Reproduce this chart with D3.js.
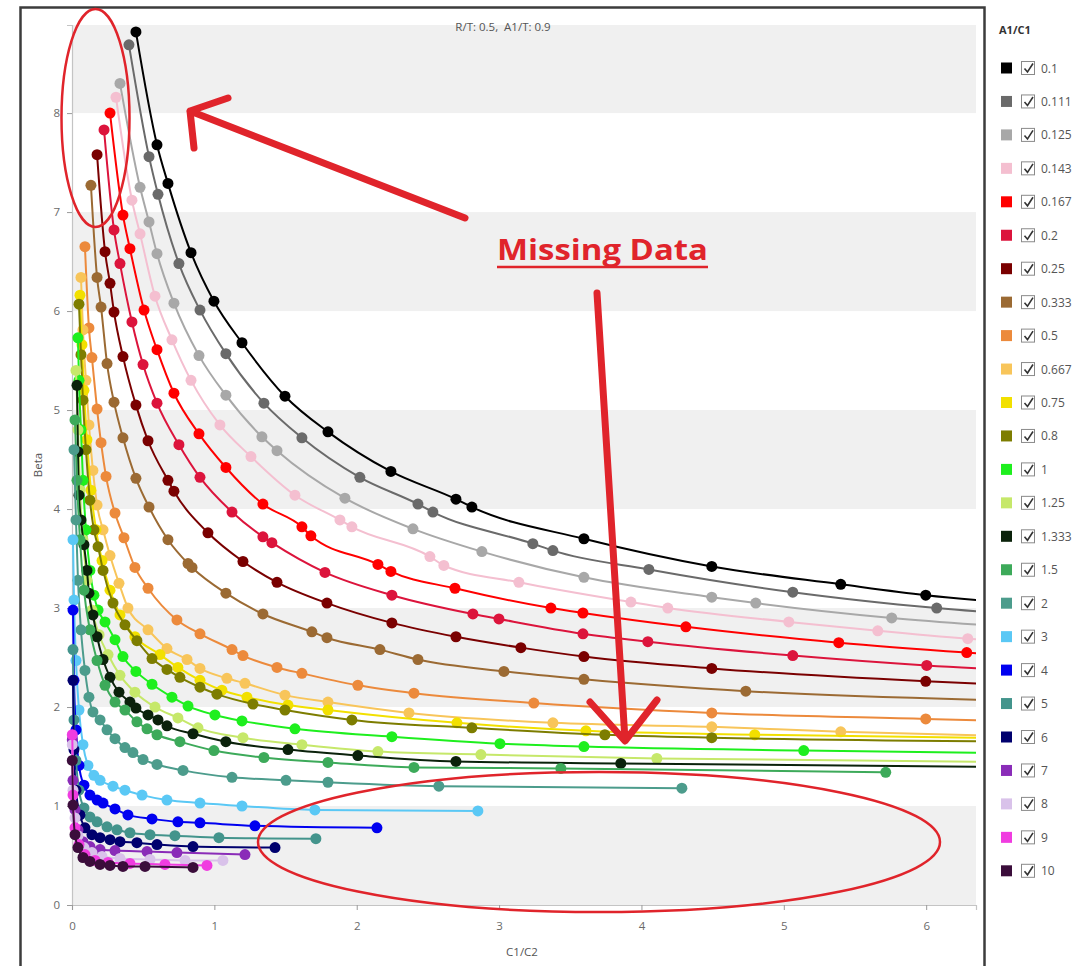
<!DOCTYPE html>
<html><head><meta charset="utf-8">
<script src="https://cdn.jsdelivr.net/npm/d3@7"></script>
<style>
body{margin:0;background:#fff;}
svg{display:block;font-family:"Open Sans","Noto Sans",sans-serif;}
text{white-space:pre;}
</style>
</head><body>
<svg id="c" width="1088" height="966"></svg>
<script>
// ---------- DATA (C1/C2, Beta) ----------
const seriesNames = ["0.1","0.111","0.125","0.143","0.167","0.2","0.25","0.333","0.5","0.667","0.75","0.8","1","1.25","1.333","1.5","2","3","4","5","6","7","8","9","10"];
const seriesColors = ["#000000","#6a6a6a","#a8a8a8","#f4bfd0","#ff0000","#dc143c","#7a0000","#9b6a33","#ec8a3c","#f8c55a","#f2e000","#7d7d00","#1eef1e","#c6e86a","#0b220b","#3daa5a","#4c9c8c","#5ac8f5","#0000f0","#43948c","#00006e","#8a2cb8","#d9c2ea","#f03ce0","#3b0d3b"];

const s_0_1   = [[0.449,8.82],[0.597,7.68],[0.674,7.29],[0.836,6.59],[0.997,6.10],[1.194,5.68],[1.496,5.14],[1.798,4.78],[2.240,4.38],[2.697,4.10],[2.809,4.02],[3.596,3.70],[4.494,3.42],[5.400,3.24],[5.997,3.13],[6.8,3.03]];
const s_0_111 = [[0.400,8.69],[0.541,7.56],[0.604,7.18],[0.751,6.48],[0.899,6.01],[1.081,5.57],[1.348,5.07],[1.615,4.72],[2.022,4.32],[2.430,4.05],[2.535,3.97],[3.237,3.65],[3.378,3.58],[4.052,3.39],[5.063,3.16],[6.074,3.00],[6.8,2.92]];
const s_0_125 = [[0.337,8.30],[0.478,7.25],[0.541,6.90],[0.597,6.58],[0.716,6.08],[0.892,5.55],[1.081,5.15],[1.334,4.73],[1.440,4.59],[1.917,4.11],[2.395,3.80],[2.879,3.57],[3.596,3.31],[4.494,3.11],[4.803,3.05],[5.758,2.90],[6.8,2.79]];
const s_0_143 = [[0.309,8.16],[0.421,7.12],[0.478,6.78],[0.583,6.15],[0.702,5.71],[0.836,5.30],[1.039,4.85],[1.257,4.53],[1.566,4.14],[1.882,3.89],[1.966,3.82],[2.514,3.52],[2.612,3.43],[3.139,3.26],[3.926,3.06],[4.185,3.00],[5.035,2.86],[5.660,2.77],[6.292,2.69],[6.8,2.64]];
const s_0_167 = [[0.267,8.00],[0.358,6.97],[0.407,6.63],[0.506,6.01],[0.597,5.61],[0.716,5.17],[0.892,4.76],[1.081,4.42],[1.341,4.05],[1.615,3.82],[1.678,3.73],[2.149,3.44],[2.240,3.37],[2.690,3.20],[3.364,3.00],[3.589,2.95],[4.312,2.81],[5.386,2.65],[6.285,2.55],[6.8,2.50]];
const s_0_2   = [[0.225,7.83],[0.295,6.82],[0.337,6.48],[0.421,5.89],[0.499,5.46],[0.597,5.07],[0.751,4.65],[0.899,4.32],[1.124,3.97],[1.341,3.72],[1.404,3.66],[1.777,3.36],[2.247,3.13],[2.816,2.94],[2.999,2.89],[3.589,2.74],[4.045,2.66],[5.063,2.52],[6.004,2.42],[6.8,2.36]];
const s_0_25  = [[0.176,7.58],[0.232,6.60],[0.267,6.28],[0.295,5.99],[0.358,5.54],[0.449,5.05],[0.534,4.69],[0.674,4.29],[0.716,4.18],[0.955,3.76],[1.201,3.47],[1.440,3.26],[1.791,3.05],[2.247,2.85],[2.697,2.71],[3.153,2.60],[3.596,2.51],[4.494,2.39],[5.997,2.26],[6.8,2.21]];
const s_0_333 = [[0.133,7.27],[0.176,6.34],[0.204,6.04],[0.246,5.47],[0.295,5.08],[0.358,4.72],[0.449,4.31],[0.541,4.02],[0.674,3.69],[0.815,3.45],[0.843,3.41],[1.081,3.15],[1.341,2.94],[1.685,2.76],[1.791,2.70],[2.163,2.58],[2.430,2.48],[3.034,2.36],[3.596,2.28],[4.733,2.16],[6.8,2.06]];
const s_0_5   = [[0.091,6.65],[0.119,5.83],[0.140,5.53],[0.176,5.01],[0.204,4.67],[0.239,4.33],[0.302,3.96],[0.365,3.71],[0.442,3.41],[0.534,3.20],[0.737,2.88],[0.899,2.74],[1.124,2.58],[1.201,2.52],[1.440,2.40],[1.615,2.34],[2.008,2.22],[2.402,2.14],[3.244,2.04],[4.494,1.94],[5.997,1.88],[6.8,1.85]];
const s_0_667 = [[0.063,6.34],[0.077,5.81],[0.098,5.30],[0.119,4.85],[0.147,4.39],[0.176,4.04],[0.218,3.79],[0.267,3.53],[0.330,3.25],[0.393,3.00],[0.534,2.78],[0.667,2.59],[0.808,2.48],[0.899,2.39],[1.088,2.29],[1.215,2.24],[1.496,2.12],[1.798,2.05],[2.367,1.94],[3.378,1.84],[4.494,1.80],[5.400,1.75],[6.8,1.70]];
const s_0_75  = [[0.056,6.16],[0.070,5.66],[0.084,5.20],[0.105,4.70],[0.133,4.19],[0.169,3.79],[0.211,3.48],[0.267,3.18],[0.337,2.93],[0.442,2.71],[0.618,2.53],[0.744,2.40],[0.899,2.27],[1.053,2.17],[1.229,2.10],[1.517,2.02],[1.798,1.97],[2.704,1.84],[3.610,1.76],[4.796,1.72],[6.8,1.68]];
const s_0_8   = [[0.049,6.07],[0.063,5.56],[0.077,5.10],[0.098,4.60],[0.126,4.09],[0.154,3.79],[0.183,3.62],[0.218,3.38],[0.288,3.05],[0.372,2.83],[0.456,2.67],[0.562,2.49],[0.667,2.38],[0.758,2.30],[0.899,2.20],[1.018,2.13],[1.271,2.03],[1.496,1.97],[1.966,1.87],[2.809,1.79],[3.743,1.72],[4.494,1.69],[6.8,1.65]];
const s_1     = [[0.042,5.73],[0.049,5.30],[0.063,4.80],[0.077,4.29],[0.098,3.79],[0.126,3.38],[0.154,3.13],[0.183,2.98],[0.232,2.86],[0.302,2.68],[0.358,2.51],[0.449,2.36],[0.562,2.23],[0.702,2.10],[0.815,2.01],[1.004,1.92],[1.194,1.86],[1.566,1.78],[2.247,1.70],[3.006,1.63],[3.596,1.60],[5.140,1.56],[6.8,1.53]];
const s_1_25  = [[0.028,5.40],[0.042,4.80],[0.056,4.19],[0.077,3.69],[0.105,3.28],[0.140,2.98],[0.190,2.73],[0.253,2.53],[0.337,2.32],[0.442,2.15],[0.583,2.00],[0.744,1.89],[0.885,1.79],[1.201,1.69],[1.615,1.62],[2.149,1.55],[2.872,1.52],[4.108,1.48],[6.8,1.44]];
const s_1_333 = [[0.035,5.25],[0.042,4.58],[0.049,4.14],[0.063,3.89],[0.084,3.64],[0.105,3.38],[0.119,3.15],[0.147,2.93],[0.176,2.71],[0.218,2.48],[0.267,2.30],[0.330,2.15],[0.407,2.05],[0.449,1.99],[0.534,1.92],[0.604,1.87],[0.667,1.81],[0.850,1.73],[1.081,1.65],[1.517,1.57],[2.008,1.51],[2.697,1.45],[3.855,1.43],[6.8,1.39]];
const s_1_5   = [[0.021,4.90],[0.035,4.29],[0.056,3.69],[0.084,3.18],[0.126,2.78],[0.176,2.47],[0.232,2.22],[0.302,2.05],[0.372,1.97],[0.456,1.85],[0.527,1.78],[0.597,1.72],[0.758,1.65],[0.997,1.56],[1.348,1.49],[1.798,1.44],[2.402,1.39],[3.434,1.38],[5.716,1.34]];
const s_2     = [[0.014,4.60],[0.028,3.89],[0.042,3.28],[0.063,2.78],[0.091,2.37],[0.119,2.10],[0.147,1.95],[0.197,1.87],[0.246,1.77],[0.302,1.68],[0.372,1.59],[0.428,1.54],[0.499,1.47],[0.597,1.42],[0.780,1.36],[1.124,1.29],[1.503,1.26],[1.798,1.24],[2.577,1.20],[4.284,1.18]];
const s_3     = [[0.007,3.69],[0.014,3.08],[0.028,2.47],[0.049,1.97],[0.077,1.62],[0.112,1.41],[0.154,1.31],[0.197,1.26],[0.288,1.20],[0.372,1.16],[0.492,1.11],[0.667,1.06],[0.899,1.03],[1.194,1.00],[1.706,0.96],[2.851,0.95]];
const s_4     = [[0.007,2.98],[0.014,2.27],[0.028,1.77],[0.049,1.41],[0.084,1.21],[0.126,1.11],[0.176,1.06],[0.218,1.03],[0.302,0.97],[0.393,0.91],[0.562,0.87],[0.744,0.84],[0.899,0.83],[1.285,0.80],[2.142,0.78]];
const s_5     = [[0.007,2.58],[0.014,1.87],[0.028,1.46],[0.049,1.16],[0.084,0.98],[0.126,0.89],[0.176,0.84],[0.246,0.79],[0.316,0.76],[0.407,0.73],[0.548,0.71],[0.723,0.70],[1.032,0.68],[1.713,0.67]];
const s_6     = [[0.007,2.27],[0.014,1.57],[0.028,1.16],[0.056,0.91],[0.091,0.78],[0.140,0.71],[0.197,0.68],[0.267,0.66],[0.337,0.64],[0.456,0.63],[0.597,0.61],[0.850,0.59],[1.426,0.58]];
const s_7     = [[0.002,1.67],[0.007,1.26],[0.021,0.96],[0.042,0.76],[0.077,0.64],[0.126,0.59],[0.197,0.56],[0.302,0.55],[0.527,0.54],[0.737,0.53],[1.215,0.51]];
const s_8     = [[0.002,1.62],[0.007,1.16],[0.021,0.88],[0.042,0.70],[0.084,0.58],[0.140,0.53],[0.211,0.49],[0.337,0.47],[0.548,0.46],[0.794,0.45],[1.060,0.45]];
const s_9     = [[0.002,1.72],[0.007,1.11],[0.021,0.78],[0.049,0.61],[0.091,0.51],[0.162,0.45],[0.253,0.43],[0.407,0.42],[0.653,0.41],[0.948,0.40]];
const s_10    = [[0.002,1.46],[0.007,1.01],[0.021,0.71],[0.042,0.58],[0.077,0.48],[0.126,0.44],[0.197,0.41],[0.267,0.40],[0.358,0.39],[0.513,0.39],[0.850,0.38]];

const xTicks = [0,1,2,3,4,5,6];
const yTicks = [0,1,2,3,4,5,6,7,8];
const chartTitle = "R/T: 0.5,  A1/T: 0.9";
const xLabel = "C1/C2", yLabel = "Beta", legendTitle = "A1/C1";
const annotationText = "Missing Data";

const allSeries = [s_0_1,s_0_111,s_0_125,s_0_143,s_0_167,s_0_2,s_0_25,s_0_333,s_0_5,s_0_667,s_0_75,s_0_8,s_1,s_1_25,s_1_333,s_1_5,s_2,s_3,s_4,s_5,s_6,s_7,s_8,s_9,s_10]
  .map((v,i)=>({name:seriesNames[i], color:seriesColors[i], values:v}));

// ---------- LAYOUT ----------
const svg = d3.select("#c");
const L=72, R=976, T=25, B=905;
const x = d3.scaleLinear().domain([0,6.35]).range([L,R]);
const y = d3.scaleLinear().domain([0,8.89]).range([B,T]);

// frame
svg.append("rect").attr("x",20.5).attr("y",7.5).attr("width",964).attr("height",975)
  .attr("fill","none").attr("stroke","#3c3c3c").attr("stroke-width",2.5);

// bands
const bands = yTicks.filter(t=>t%2===0).map(t=>[t, Math.min(t+1, y.domain()[1])]);
svg.append("g").selectAll("rect").data(bands).join("rect")
  .attr("x",L).attr("width",R-L)
  .attr("y",d=>y(d[1])).attr("height",d=>y(d[0])-y(d[1]))
  .attr("fill","#f0f0f0");

// axes
const ya = svg.append("g").attr("transform",`translate(${L},0)`)
  .call(d3.axisLeft(y).tickValues(yTicks).tickSize(5).tickPadding(7).tickFormat(d3.format("d")));
const xa = svg.append("g").attr("transform",`translate(0,${B})`)
  .call(d3.axisBottom(x).tickValues(xTicks).tickSize(5).tickPadding(12).tickFormat(d3.format("d")));
[ya,xa].forEach(g=>{
  g.select(".domain").attr("stroke","#c4c4c4").attr("stroke-width",1.2);
  g.selectAll(".tick line").attr("stroke","#9a9a9a");
  g.selectAll(".tick text").attr("fill","#6a6a6a").attr("font-size",11.5).attr("font-family","Open Sans, sans-serif");
});

svg.append("text").attr("x",503).attr("y",31).attr("text-anchor","middle")
  .attr("font-size",11.5).attr("fill","#555").text(chartTitle);
svg.append("text").attr("transform","translate(42,465) rotate(-90)").attr("text-anchor","middle")
  .attr("font-size",11.5).attr("fill","#555").text(yLabel);
svg.append("text").attr("x",522).attr("y",956).attr("text-anchor","middle")
  .attr("font-size",11.5).attr("fill","#555").text(xLabel);

// series
svg.append("defs").append("clipPath").attr("id","clip")
  .append("rect").attr("x",L-12).attr("y",T-10).attr("width",R-L+12).attr("height",B-T+10);
const plot = svg.append("g").attr("clip-path","url(#clip)");
const line = d3.line().x(d=>x(d[0])).y(d=>y(d[1])).curve(d3.curveMonotoneX);
const sg = plot.selectAll("g.s").data(allSeries).join("g").attr("class","s");
sg.append("path").attr("d",d=>line(d.values)).attr("fill","none")
  .attr("stroke",d=>d.color).attr("stroke-width",2);
sg.selectAll("circle").data(d=>d.values.map(v=>({v,c:d.color}))).join("circle")
  .attr("cx",d=>x(d.v[0])).attr("cy",d=>y(d.v[1])).attr("r",5.5).attr("fill",d=>d.c);

// annotations
const red="#e0242b";
const ann = svg.append("g").attr("fill","none").attr("stroke",red).attr("stroke-linecap","round").attr("stroke-linejoin","round");
ann.append("ellipse").attr("cx",95.5).attr("cy",118).attr("rx",34).attr("ry",109).attr("stroke-width",2.5);
ann.append("ellipse").attr("cx",599).attr("cy",842).attr("rx",341).attr("ry",70).attr("stroke-width",2.5);
ann.append("path").attr("d","M465,218 L190,111 M228,98 L190,111 L194,148").attr("stroke-width",7);
ann.append("path").attr("d","M597,293 L625,740 M590,702 L625,741 L657,700").attr("stroke-width",7);
svg.append("text").attr("x",497).attr("y",260).attr("font-size",29).attr("font-weight",700)
  .attr("font-family","Open Sans, sans-serif").attr("fill",red)
  .attr("textLength",211).attr("lengthAdjust","spacingAndGlyphs").text(annotationText);
svg.append("line").attr("x1",497).attr("x2",708).attr("y1",267).attr("y2",267).attr("stroke",red).attr("stroke-width",2.5);

// legend
svg.append("text").attr("x",999).attr("y",34).attr("font-size",11).attr("font-weight",700)
  .attr("fill","#333").text(legendTitle);
const lg = svg.append("g").selectAll("g").data(allSeries).join("g")
  .attr("transform",(d,i)=>`translate(0,${68+i*33.45})`);
lg.append("rect").attr("x",1001).attr("y",-5.5).attr("width",11).attr("height",11).attr("fill",d=>d.color);
lg.append("rect").attr("x",1021.5).attr("y",-6.5).attr("width",13).attr("height",13)
  .attr("fill","#fff").attr("stroke","#8a8a8a").attr("stroke-width",1);
lg.append("path").attr("d","M1024.5,0.5 L1027.5,4 L1033,-4.5").attr("fill","none")
  .attr("stroke","#333").attr("stroke-width",1.6);
lg.append("text").attr("x",1041).attr("y",4.5).attr("font-size",12).attr("fill","#555").text(d=>d.name);
</script>
</body></html>
